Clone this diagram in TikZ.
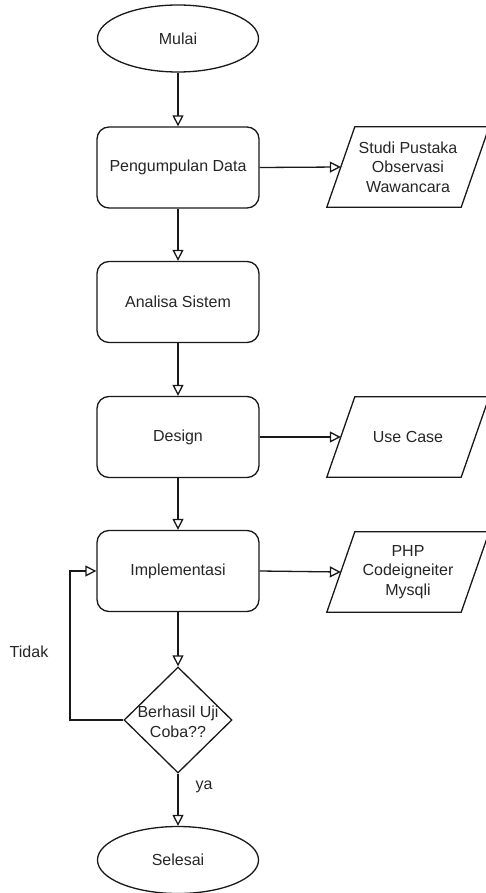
\documentclass[tikz,border=0pt]{standalone}
\usepackage{fontspec}
\setmainfont{Liberation Sans}
\usetikzlibrary{arrows.meta,shapes.geometric,calc}
\begin{document}
\begin{tikzpicture}[x=1pt,y=-1pt,
  every node/.style={font=\fontsize{16}{19.5}\selectfont, text=black!85},
  line/.style={draw=black!90, line width=1.3pt},
  arr/.style={line, -{Triangle[open,length=11pt,width=11pt]}},
  proc/.style={line, rectangle, rounded corners=12pt, minimum width=162pt, minimum height=81pt, inner sep=0pt},
  term/.style={line, ellipse, minimum width=161pt, minimum height=67pt, inner sep=0pt},
  dec/.style={line, diamond, minimum width=108pt, minimum height=106pt, inner sep=0pt, aspect=1},
  io/.style={rectangle, minimum width=134pt, minimum height=80pt, inner sep=0pt, align=center},
  iobox/.style={line, line join=miter},
  lbl/.style={inner sep=0pt}
]
\useasboundingbox (0,0) rectangle (486,893);
\fill[white] (0,0) rectangle (486,893);

\node[term] (mulai) at (178,38.5) {Mulai};
\node[proc] (peng) at (178,167.5) {Pengumpulan Data};
\node[proc] (anal) at (178,302) {Analisa Sistem};
\node[proc] (design) at (178,437) {Design};
\node[proc] (impl) at (178,571) {Implementasi};
\node[dec] (dec) at (178,720) {};
\node[align=center, inner sep=0pt] (dect) at (178,722) {Berhasil Uji\\Coba??};
\node[term] (selesai) at (178,860) {Selesai};

\node[io] (studi) at (408,167) {Studi Pustaka\\Observasi\\Wawancara};
\node[io] (usecase) at (408,437) {Use Case};
\node[io] (php) at (408,572) {PHP\\Codeigneiter\\Mysqli};

\foreach \n in {studi,usecase,php}{
  \draw[iobox] ($(\n.south west)+(-14,0)$) -- ($(\n.north west)+(14,0)$) -- ($(\n.north east)+(14,0)$) -- ($(\n.south east)+(-14,0)$) -- cycle;
}

\draw[arr] (mulai.south) -- (peng.north);
\draw[arr] (peng.south) -- (anal.north);
\draw[arr] (anal.south) -- (design.north);
\draw[arr] (design.south) -- (impl.north);
\draw[arr] (impl.south) -- (dec.north);
\draw[arr] (dec.south) -- (selesai.north);

\draw[arr] (peng.east) -- (studi.west);
\draw[arr] (design.east) -- (usecase.west);
\draw[arr] (impl.east) -- (php.west);

\coordinate (loopL) at (70,720);
\draw[arr] (dec.west) -- (loopL) |- (impl.west);

\node[lbl] (tidak) at (29,652) {Tidak};
\node[lbl] (ya) at (204,787) {ya};
\end{tikzpicture}
\end{document}
